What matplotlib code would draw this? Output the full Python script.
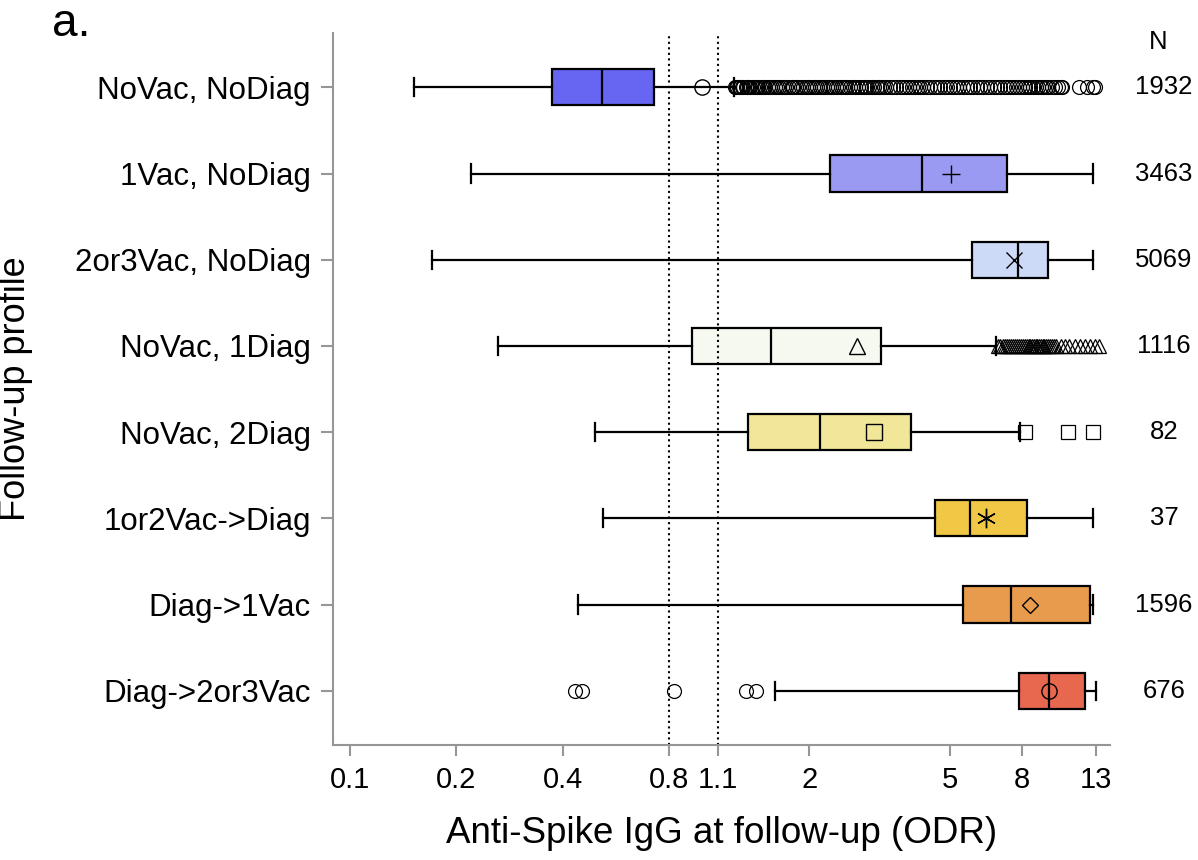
import numpy as np
import matplotlib
matplotlib.use('Agg')
import matplotlib.pyplot as plt

plt.rcParams['font.family'] = ['Liberation Sans', 'DejaVu Sans']

# follow-up profiles, top to bottom
profiles = ['NoVac, NoDiag', '1Vac, NoDiag', '2or3Vac, NoDiag', 'NoVac, 1Diag',
            'NoVac, 2Diag', '1or2Vac->Diag', 'Diag->1Vac', 'Diag->2or3Vac']
n_obs = [1932, 3463, 5069, 1116, 82, 37, 1596, 676]

whislo = [0.152, 0.220, 0.171, 0.262, 0.494, 0.521, 0.442, 1.60]
q1 = [0.373, 2.29, 5.78, 0.93, 1.34, 4.54, 5.45, 7.85]
med = [0.518, 4.17, 7.80, 1.56, 2.14, 5.70, 7.46, 9.52]
q3 = [0.726, 7.26, 9.49, 3.19, 3.88, 8.28, 12.5, 12.08]
whishi = [1.22, 12.7, 12.7, 6.76, 7.91, 12.7, 12.7, 13.0]
means = [0.99, 5.04, 7.6, 2.73, 3.05, 6.33, 8.44, 9.55]

fliers = [
    [1.23, 1.24, 1.25, 1.26, 1.27, 1.29, 1.30, 1.32, 1.33, 1.35, 1.36, 1.38,
     1.40, 1.42, 1.43, 1.45, 1.47, 1.49, 1.50, 1.53, 1.55, 1.57, 1.60, 1.62,
     1.64, 1.67, 1.70, 1.72, 1.75, 1.78, 1.80, 1.83, 1.86, 1.89, 1.92, 1.95,
     1.98, 2.01, 2.05, 2.08, 2.10, 2.14, 2.17, 2.20, 2.24, 2.27, 2.30, 2.34,
     2.38, 2.41, 2.45, 2.49, 2.52, 2.56, 2.60, 2.65, 2.70, 2.75, 2.80, 2.85,
     2.90, 2.95, 3.00, 3.05, 3.10, 3.15, 3.20, 3.25, 3.30, 3.38, 3.45, 3.52,
     3.60, 3.68, 3.75, 3.82, 3.90, 3.98, 4.05, 4.12, 4.20, 4.30, 4.40, 4.50,
     4.60, 4.70, 4.80, 4.90, 5.00, 5.10, 5.20, 5.32, 5.45, 5.58, 5.70, 5.82,
     5.95, 6.08, 6.20, 6.35, 6.50, 6.65, 6.80, 6.95, 7.10, 7.25, 7.40, 7.55,
     7.70, 7.85, 8.00, 8.15, 8.30, 8.45, 8.60, 8.75, 8.90, 9.05, 9.20, 9.35,
     9.50, 9.70, 9.90, 10.1, 10.3, 10.4, 11.6, 12.2, 12.7, 12.9],
    [],
    [],
    [6.85, 6.95, 7.05, 7.15, 7.25, 7.35, 7.45, 7.55, 7.65, 7.75, 7.85, 7.95,
     8.05, 8.15, 8.25, 8.35, 8.45, 8.55, 8.65, 8.75, 8.85, 8.95, 9.05, 9.15,
     9.25, 9.35, 9.45, 9.60, 9.70, 9.85, 10.0, 10.3, 10.6, 10.9, 11.3, 11.7,
     12.1, 12.5, 12.9, 13.2],
    [8.15, 10.8, 12.7],
    [],
    [],
    [0.433, 0.454, 0.828, 1.32, 1.41],
]

markers = ['o', '+', 'x', '^', 's', (6, 2, 0), 'D', 'o']
colors = ['#6666f2', '#9a9af2', '#ccd9f7', '#f5f9ef', '#f2e699', '#f0c846',
          '#e89b4c', '#e8674f']

xticks = [0.1, 0.2, 0.4, 0.8, 1.1, 2, 5, 8, 13]
xticklabels = ['0.1', '0.2', '0.4', '0.8', '1.1', '2', '5', '8', '13']

fig = plt.figure(figsize=(11.98, 8.6), dpi=100)
ax = fig.add_axes([0.278, 0.1337, 0.6485, 0.8279])

positions = np.arange(1, len(profiles) + 1)
grey = '#969696'

for i in range(len(profiles)):
    stats = [dict(med=med[i], q1=q1[i], q3=q3[i], whislo=whislo[i],
                  whishi=whishi[i], mean=means[i], fliers=fliers[i])]
    mk = markers[i]
    size = 11
    if mk == 'D':
        size = 8.5
    elif mk == '+':
        size = 13
    elif mk == (6, 2, 0):
        size = 14
    mprops = dict(marker=mk, markersize=size, markerfacecolor='none',
                  markeredgecolor='black', markeredgewidth=1.0)
    fprops = dict(marker=mk, markersize=10, markerfacecolor='none',
                  markeredgecolor='black', markeredgewidth=0.9, linestyle='none')
    ax.bxp(stats, positions=[positions[i]], vert=False, widths=0.42,
           patch_artist=True, showmeans=True, showfliers=True,
           boxprops=dict(facecolor=colors[i], edgecolor='black', linewidth=1.6),
           medianprops=dict(color='black', linewidth=1.6),
           whiskerprops=dict(color='black', linewidth=1.6),
           capprops=dict(color='black', linewidth=1.6),
           meanprops=mprops, flierprops=fprops, manage_ticks=False)

ax.axvline(0.8, color='black', linestyle=':', linewidth=1.5)
ax.axvline(1.1, color='black', linestyle=':', linewidth=1.5)

ax.set_xscale('log')
ax.set_xlim(0.0895, 14.2)
ax.set_ylim(8.63, 0.37)
ax.set_xticks(xticks)
ax.set_xticklabels(xticklabels, fontsize=21)
ax.minorticks_off()
ax.set_yticks(positions)
ax.set_yticklabels(profiles, fontsize=22.5)

for s in ['top', 'right']:
    ax.spines[s].set_visible(False)
for s in ['left', 'bottom']:
    ax.spines[s].set_color(grey)
    ax.spines[s].set_linewidth(1.5)
ax.tick_params(axis='x', colors=grey, labelcolor='black', length=8, width=1.5, pad=7)
ax.tick_params(axis='y', colors=grey, labelcolor='black', length=9, width=1.5, pad=7)

ax.set_xlabel('Anti-Spike IgG at follow-up (ODR)', fontsize=26.5, labelpad=16)
ax.set_ylabel('Follow-up profile', fontsize=26)
ax.yaxis.set_label_coords(-0.386, 0.5)

fig.text(0.9666, 0.951, 'N', fontsize=18.5, ha='center', va='center')
for i, n in enumerate(n_obs):
    ax.text(1.0695, positions[i], str(n), fontsize=18.5, ha='center', va='center',
            transform=ax.get_yaxis_transform())

fig.text(0.043, 0.958, 'a.', fontsize=33, ha='left', va='baseline')

fig.savefig('out.png', dpi=100)
